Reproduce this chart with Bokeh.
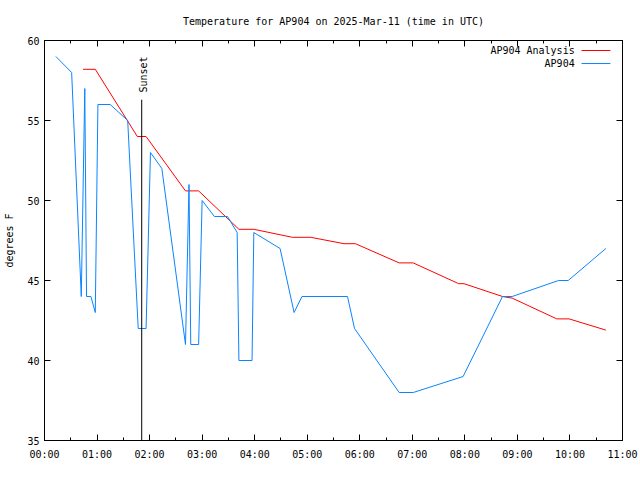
from bokeh.plotting import figure
from bokeh.models import FixedTicker, LinearAxis, ColumnDataSource
from bokeh.core.properties import value
from bokeh.embed import file_html
from bokeh.resources import INLINE
import math

# ---- data ----
title_text = "Temperature for AP904 on 2025-Mar-11 (time in UTC)"
y_label = "degrees F"
x_tick_labels = ["00:00", "01:00", "02:00", "03:00", "04:00", "05:00",
                 "06:00", "07:00", "08:00", "09:00", "10:00", "11:00"]
y_ticks = [35, 40, 45, 50, 55, 60]

analysis_name = "AP904 Analysis"
analysis_times = ["00:44", "00:58", "01:46", "01:56", "02:41", "02:56", "03:42", "03:59",
                  "04:43", "05:04", "05:42", "05:55", "06:45", "07:01", "07:53", "07:59",
                  "08:43", "08:54", "09:45", "09:59", "10:41"]
analysis_temps = [58.2, 58.2, 54.0, 54.0, 50.6, 50.6, 48.2, 48.2,
                  47.7, 47.7, 47.3, 47.3, 46.1, 46.1, 44.8, 44.8,
                  44.0, 43.9, 42.6, 42.6, 41.9]

obs_name = "AP904"
obs_times = ["00:13", "00:31", "00:42", "00:46", "00:48", "00:53", "00:58", "01:01", "01:15", "01:35",
             "01:47", "01:56", "02:01", "02:14", "02:41", "02:45", "02:47", "02:56", "03:00", "03:14",
             "03:29", "03:40", "03:42", "03:57", "03:59", "04:29", "04:45", "04:54", "05:46", "05:54",
             "06:45", "07:01", "07:58", "08:43", "08:54", "09:47", "09:58", "10:41"]
obs_temps = [59, 58, 44, 57, 44, 44, 43, 56, 56, 55,
             42, 42, 53, 52, 41, 51, 41, 41, 50, 49,
             49, 48, 40, 40, 48, 47, 43, 44, 44, 42,
             38, 38, 39, 44, 44, 45, 45, 47]

sunset_label = "Sunset"
sunset_time = "01:51"


def to_hours(t):
    h, m = t.split(":")
    return int(h) + int(m) / 60.0


# ---- styles ----
FONT = "DejaVu Sans Mono"
FS = "10px"
RED = "#ff0000"
BLUE = "#0a84ff"

p = figure(frame_width=578, frame_height=400,
           x_range=(0, 11), y_range=(35, 60),
           output_backend="svg", toolbar_location=None,
           min_border_left=44, min_border_right=16,
           min_border_top=40, min_border_bottom=32,
           x_axis_type=None, y_axis_type=None)
p.grid.visible = False
p.outline_line_color = "black"
p.background_fill_color = "white"
p.border_fill_color = "white"

p.title.text = title_text
p.title.align = "center"
p.title.text_font = FONT
p.title.text_font_size = FS
p.title.text_font_style = "normal"
p.title.text_color = "black"
p.title.standoff = 27

xt = FixedTicker(ticks=list(range(len(x_tick_labels))),
                 minor_ticks=[i + 0.5 for i in range(len(x_tick_labels) - 1)])
yt = FixedTicker(ticks=y_ticks, minor_ticks=[])


def style_axis(ax):
    ax.axis_line_color = "black"
    ax.major_tick_in = 6
    ax.major_tick_out = 0
    ax.minor_tick_in = 3
    ax.minor_tick_out = 0
    ax.major_tick_line_color = "black"
    ax.minor_tick_line_color = "black"
    ax.major_label_text_font = FONT
    ax.major_label_text_font_size = FS
    ax.major_label_text_color = "black"


xb = LinearAxis(ticker=xt)
xb.major_label_overrides = {i: lab for i, lab in enumerate(x_tick_labels)}
style_axis(xb)
xb.major_label_standoff = 8
p.add_layout(xb, "below")

xa = LinearAxis(ticker=xt)
style_axis(xa)
xa.major_label_overrides = {i: "" for i in range(len(x_tick_labels))}
xa.major_label_standoff = 0
p.add_layout(xa, "above")

yl = LinearAxis(ticker=yt, axis_label=y_label)
style_axis(yl)
yl.major_label_standoff = 5
yl.axis_label_text_font = FONT
yl.axis_label_text_font_size = FS
yl.axis_label_text_font_style = "normal"
yl.axis_label_text_color = "black"
yl.axis_label_standoff = 9
p.add_layout(yl, "left")

yr = LinearAxis(ticker=yt)
style_axis(yr)
yr.major_label_overrides = {t: "" for t in y_ticks}
yr.major_label_standoff = 0
p.add_layout(yr, "right")

# ---- series ----
src_a = ColumnDataSource(dict(x=[to_hours(t) for t in analysis_times], y=analysis_temps))
src_o = ColumnDataSource(dict(x=[to_hours(t) for t in obs_times], y=obs_temps))
p.line("x", "y", source=src_a, line_color=RED, line_width=1)
p.line("x", "y", source=src_o, line_color=BLUE, line_width=1)

# ---- sunset marker ----
sx = to_hours(sunset_time)
p.segment(x0=[sx], y0=[35], x1=[sx], y1=[56.3], line_color="black", line_width=1)
p.text(x=[sx], y=[56.75], text=[sunset_label], angle=math.pi / 2,
       text_align="left", text_baseline="middle", x_offset=2,
       text_font=value(FONT), text_font_size=FS, text_color="black")

# ---- legend (gnuplot style: text right, sample line after) ----
leg_x_text = 10.09
leg_x0, leg_x1 = 10.22, 10.77
leg_rows = [59.375, 58.56]
p.text(x=[leg_x_text] * 2, y=leg_rows, text=[analysis_name, obs_name],
       text_align="right", text_baseline="middle",
       text_font=value(FONT), text_font_size=FS, text_color="black")
p.segment(x0=[leg_x0] * 2, y0=leg_rows, x1=[leg_x1] * 2, y1=leg_rows,
          line_color=[RED, BLUE], line_width=1)

open("out.html", "w").write(file_html(p, INLINE))
